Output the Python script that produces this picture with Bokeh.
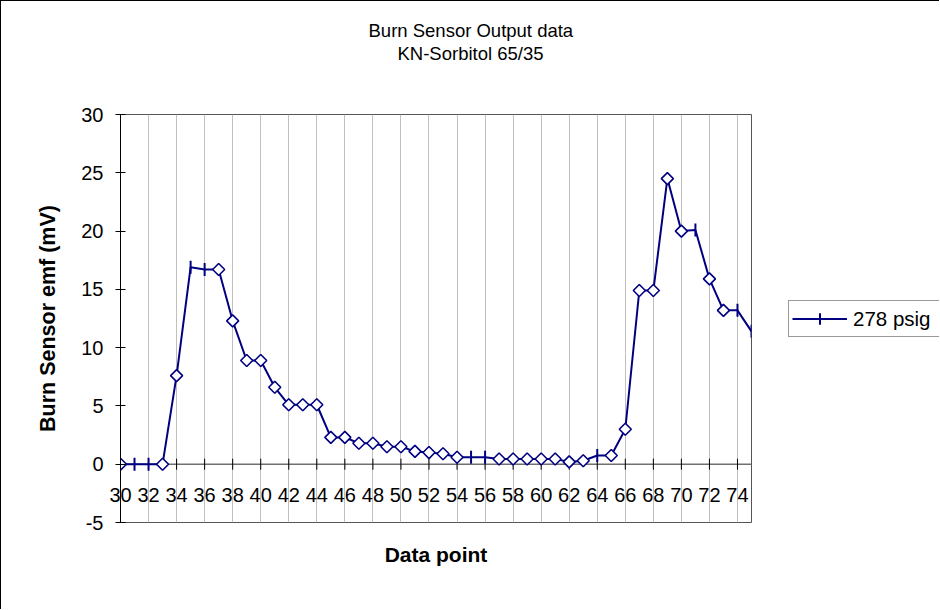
import numpy as np
from bokeh.plotting import figure
from bokeh.layouts import row
from bokeh.models import (Range1d, FixedTicker, Span, Title, Legend, LegendItem)
from bokeh.embed import file_html
from bokeh.resources import INLINE

# ---------------- data ----------------
data_point = list(range(30, 76))
emf_mv = [0.0, 0.0, 0.0, 0.0, 7.6, 16.9, 16.7, 16.7, 12.3, 8.9,
          8.9, 6.6, 5.1, 5.1, 5.1, 2.3, 2.3, 1.8, 1.8, 1.5,
          1.5, 1.1, 1.0, 0.9, 0.6, 0.6, 0.6, 0.45, 0.45, 0.45,
          0.45, 0.45, 0.2, 0.3, 0.75, 0.75, 3.0, 14.9, 14.9, 24.5,
          20.0, 20.1, 15.9, 13.2, 13.2, 11.4]
# marker drawn at each point: "d" = hollow diamond, "b" = bar (series default marker)
marker_kind = ["d", "b", "b", "d", "d", "b", "b", "d", "d", "d",
               "d", "d", "d", "d", "d", "d", "d", "d", "d", "d",
               "d", "d", "d", "d", "d", "b", "b", "d", "d", "d",
               "d", "d", "d", "d", "b", "d", "d", "d", "d", "d",
               "d", "b", "d", "d", "b", "b"]
x_ticks = list(range(30, 75, 2))
x_tick_labels = [str(t) for t in x_ticks]
y_ticks = [-5, 0, 5, 10, 15, 20, 25, 30]
y_tick_labels = ["-5", "0", "5", "10", "15", "20", "25", "30"]

series_name = "278 psig"
title_line1 = "Burn Sensor Output data"
title_line2 = "KN-Sorbitol 65/35"
x_title = "Data point"
y_title = "Burn Sensor emf (mV)"

# ---------------- style ----------------
FONT = "Liberation Sans"
NAVY = "#000080"

FIG_H = 608
FRAME_L, FRAME_T = 119, 113
FRAME_W, FRAME_H = 631, 408
GAP = 37            # plot area -> legend
LEG_W = 151         # legend strip width

FIG_W = FRAME_L + FRAME_W + GAP

p = figure(width=FIG_W, height=FIG_H, output_backend="svg", toolbar_location=None,
           x_range=Range1d(30, 75), y_range=Range1d(-5, 30),
           min_border_left=FRAME_L, min_border_right=GAP,
           min_border_top=FRAME_T, min_border_bottom=FIG_H - FRAME_T - FRAME_H)
p.background_fill_color = "white"
p.border_fill_color = "white"
p.outline_line_color = "#555555"
p.outline_line_width = 1

# x axis: labels drawn just under the zero line (category axis crossing at 0)
xa = p.xaxis[0]
xa.ticker = FixedTicker(ticks=x_ticks)
xa.major_label_overrides = {t: s for t, s in zip(x_ticks, x_tick_labels)}
xa.axis_line_color = None
xa.major_tick_line_color = None
xa.minor_tick_line_color = None
xa.major_tick_in = 0
xa.major_tick_out = 0
xa.major_label_standoff = -35
xa.major_label_text_font = FONT
xa.major_label_text_font_size = "20px"
xa.major_label_text_color = "black"

p.xgrid.ticker = FixedTicker(ticks=x_ticks)
p.xgrid.grid_line_color = "#c0c0c0"
p.xgrid.grid_line_width = 1
p.ygrid.visible = False

ya = p.yaxis[0]
ya.ticker = FixedTicker(ticks=y_ticks)
ya.major_label_overrides = {t: s for t, s in zip(y_ticks, y_tick_labels)}
ya.axis_line_color = "black"
ya.major_tick_line_color = "black"
ya.major_tick_in = 5
ya.major_tick_out = 5
ya.minor_tick_line_color = None
ya.major_label_text_font = FONT
ya.major_label_text_font_size = "20px"
ya.major_label_text_color = "black"
ya.major_label_standoff = 12
ya.axis_label = y_title
ya.axis_label_text_font = FONT
ya.axis_label_text_font_size = "21.5px"
ya.axis_label_text_font_style = "bold"
ya.axis_label_text_color = "black"
ya.axis_label_standoff = 18

# zero line with its tick marks
p.add_layout(Span(location=0, dimension="width", line_color="#707070",
                  line_width=1.5, level="underlay"))
p.scatter(x=x_ticks, y=[0] * len(x_ticks), marker="dash", angle=np.pi / 2,
          size=11, line_color="black", line_width=1)

# series
line_r = p.line(data_point, emf_mv, line_color=NAVY, line_width=2)
dx = [x for x, k in zip(data_point, marker_kind) if k == "d"]
dy = [y for y, k in zip(emf_mv, marker_kind) if k == "d"]
bx = [x for x, k in zip(data_point, marker_kind) if k == "b"]
by = [y for y, k in zip(emf_mv, marker_kind) if k == "b"]
p.scatter(x=dx, y=dy, marker="square", angle=np.pi / 4, size=8.5,
          fill_color="white", line_color=NAVY, line_width=1.6)
p.scatter(x=bx, y=by, marker="dash", angle=np.pi / 2, size=13,
          line_color=NAVY, line_width=2)

# titles
p.add_layout(Title(text=x_title, align="center", text_font=FONT,
                   text_font_size="21px", text_font_style="bold",
                   text_color="black", standoff=36), "below")
p.add_layout(Title(text=" ", text_font_size="1px", standoff=48), "above")
p.add_layout(Title(text=title_line2, align="left", offset=277, text_font=FONT,
                   text_font_size="18.5px", text_font_style="normal",
                   text_color="black", standoff=0), "above")
p.add_layout(Title(text=title_line1, align="left", offset=248, text_font=FONT,
                   text_font_size="18.5px", text_font_style="normal",
                   text_color="black", standoff=0), "above")

# legend strip to the right of the plot area (series re-plotted there out of view,
# only so that the legend can draw its line and marker)
pl = figure(width=LEG_W, height=FIG_H, output_backend="svg", toolbar_location=None,
            x_range=Range1d(0, 1), y_range=Range1d(0, 1),
            x_axis_location=None, y_axis_location=None, title=None,
            min_border=0, min_border_left=0, min_border_right=0,
            min_border_top=0, min_border_bottom=0)
pl.outline_line_color = None
pl.grid.visible = False
pl.background_fill_color = "white"
pl.border_fill_color = "white"
leg_line = pl.line(data_point, emf_mv, line_color=NAVY, line_width=2)
leg_mark = pl.scatter(bx, by, marker="cross", size=13,
                      line_color=NAVY, line_width=2)
legend = Legend(items=[LegendItem(label=series_name, renderers=[leg_line, leg_mark])],
                location=(0, 185), margin=0, padding=3, spacing=0,
                glyph_width=55, glyph_height=29, label_height=29,
                label_standoff=6, label_width=90,
                label_text_font=FONT, label_text_font_size="20.5px",
                label_text_color="black",
                border_line_color="#333333", border_line_width=1,
                background_fill_color="white", background_fill_alpha=1)
pl.add_layout(legend, "center")

layout = row(p, pl, spacing=0,
             styles={"border-left": "1px solid black", "border-top": "1px solid black"})

open("out.html", "w").write(file_html(layout, INLINE))
